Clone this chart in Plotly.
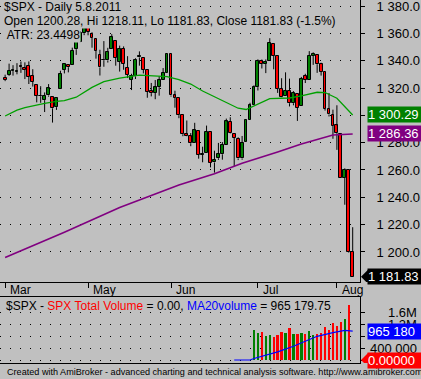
import plotly.graph_objects as go

# ---------------- data ----------------
dates = [
    "2011-03-31",
    "2011-04-01", "2011-04-04", "2011-04-05", "2011-04-06", "2011-04-07", "2011-04-08",
    "2011-04-11", "2011-04-12", "2011-04-13", "2011-04-14", "2011-04-15",
    "2011-04-18", "2011-04-19", "2011-04-20", "2011-04-21",
    "2011-04-25", "2011-04-26", "2011-04-27", "2011-04-28", "2011-04-29",
    "2011-05-02", "2011-05-03", "2011-05-04", "2011-05-05", "2011-05-06",
    "2011-05-09", "2011-05-10", "2011-05-11", "2011-05-12", "2011-05-13",
    "2011-05-16", "2011-05-17", "2011-05-18", "2011-05-19", "2011-05-20",
    "2011-05-23", "2011-05-24", "2011-05-25", "2011-05-26", "2011-05-27",
    "2011-05-31",
    "2011-06-01", "2011-06-02", "2011-06-03",
    "2011-06-06", "2011-06-07", "2011-06-08", "2011-06-09", "2011-06-10",
    "2011-06-13", "2011-06-14", "2011-06-15", "2011-06-16", "2011-06-17",
    "2011-06-20", "2011-06-21", "2011-06-22", "2011-06-23", "2011-06-24",
    "2011-06-27", "2011-06-28", "2011-06-29", "2011-06-30",
    "2011-07-01",
    "2011-07-05", "2011-07-06", "2011-07-07", "2011-07-08",
    "2011-07-11", "2011-07-12", "2011-07-13", "2011-07-14", "2011-07-15",
    "2011-07-18", "2011-07-19", "2011-07-20", "2011-07-21", "2011-07-22",
    "2011-07-25", "2011-07-26", "2011-07-27", "2011-07-28", "2011-07-29",
    "2011-08-01", "2011-08-02", "2011-08-03", "2011-08-04", "2011-08-05",
]

opens = [
    1327.44,
    1329.48, 1332.41, 1332.03, 1335.94, 1334.82, 1336.16,
    1329.01, 1321.96, 1314.03, 1311.13, 1314.54,
    1313.35, 1305.99, 1319.12, 1333.23,
    1337.14, 1336.75, 1348.43, 1353.86, 1360.14,
    1365.21, 1359.76, 1355.90, 1344.16, 1340.24,
    1340.20, 1348.34, 1354.51, 1339.39, 1348.69,
    1334.77, 1326.10, 1328.54, 1342.40, 1342.00,
    1333.07, 1317.70, 1316.36, 1320.64, 1325.69,
    1331.10,
    1345.20, 1314.55, 1312.94,
    1300.26, 1286.31, 1284.63, 1279.63, 1288.26,
    1271.31, 1272.22, 1287.87, 1265.53, 1268.58,
    1271.50, 1278.40, 1295.48, 1286.60, 1283.04,
    1268.44, 1280.21, 1296.85, 1307.64,
    1320.64,
    1339.59, 1337.56, 1339.62, 1352.39,
    1343.31, 1319.61, 1314.45, 1317.74, 1308.87,
    1315.94, 1307.07, 1328.66, 1325.65, 1343.80,
    1344.32, 1337.39, 1331.91, 1304.84, 1300.12,
    1292.59, 1286.56, 1254.25, 1260.23, 1200.28,
]
highs = [
    1329.77,
    1337.85, 1336.74, 1338.21, 1339.38, 1338.80, 1339.46,
    1333.77, 1321.96, 1321.35, 1316.79, 1322.88,
    1313.35, 1312.70, 1332.66, 1337.49,
    1337.55, 1349.55, 1357.49, 1361.71, 1364.56,
    1370.58, 1360.84, 1355.90, 1348.00, 1354.36,
    1349.44, 1359.44, 1354.51, 1351.05, 1350.47,
    1343.33, 1330.42, 1341.82, 1346.82, 1342.00,
    1333.07, 1323.72, 1325.86, 1328.51, 1334.62,
    1345.20,
    1345.20, 1318.03, 1312.94,
    1300.26, 1296.22, 1287.04, 1294.54, 1288.26,
    1277.04, 1292.50, 1287.87, 1274.11, 1279.82,
    1280.42, 1297.62, 1298.61, 1286.60, 1283.93,
    1284.91, 1296.80, 1309.21, 1321.97,
    1341.01,
    1340.89, 1340.94, 1356.48, 1352.39,
    1343.31, 1327.17, 1331.48, 1326.88, 1317.70,
    1315.94, 1328.14, 1330.43, 1347.00, 1346.10,
    1344.32, 1338.51, 1331.91, 1316.32, 1304.16,
    1307.38, 1286.56, 1261.20, 1260.23, 1218.11,
]
lows = [
    1325.03,
    1328.89, 1329.10, 1330.03, 1331.09, 1326.56, 1322.94,
    1321.06, 1309.51, 1309.19, 1302.42, 1313.68,
    1294.70, 1303.97, 1319.12, 1330.70,
    1331.47, 1336.75, 1344.25, 1353.60, 1358.69,
    1358.59, 1349.52, 1341.50, 1329.17, 1335.58,
    1338.64, 1348.34, 1336.36, 1332.03, 1333.36,
    1327.32, 1318.51, 1326.59, 1336.36, 1330.67,
    1312.88, 1313.87, 1311.80, 1314.41, 1325.69,
    1331.10,
    1313.71, 1305.61, 1297.90,
    1284.72, 1284.74, 1277.42, 1279.63, 1268.28,
    1265.64, 1272.22, 1261.90, 1258.07, 1267.40,
    1267.56, 1278.40, 1286.79, 1262.87, 1267.24,
    1267.53, 1280.21, 1296.85, 1307.64,
    1318.18,
    1334.30, 1330.92, 1339.62, 1333.71,
    1316.42, 1313.33, 1314.45, 1306.51, 1307.35,
    1295.92, 1307.07, 1323.65, 1325.65, 1336.95,
    1331.09, 1329.10, 1303.49, 1299.16, 1282.86,
    1274.73, 1254.03, 1234.56, 1199.54, 1181.83,
]
closes = [
    1325.83,
    1332.41, 1332.87, 1332.63, 1335.54, 1333.51, 1328.17,
    1324.46, 1314.16, 1314.41, 1314.52, 1319.68,
    1305.14, 1312.62, 1330.36, 1337.38,
    1335.25, 1347.24, 1355.66, 1360.48, 1363.61,
    1361.22, 1356.62, 1347.32, 1335.10, 1340.20,
    1346.29, 1357.16, 1342.08, 1348.65, 1337.77,
    1329.47, 1328.98, 1340.68, 1343.60, 1333.27,
    1317.37, 1316.28, 1320.47, 1325.69, 1331.10,
    1345.20,
    1314.55, 1312.94, 1300.16,
    1286.17, 1284.94, 1279.56, 1289.00, 1270.98,
    1271.83, 1287.87, 1265.42, 1267.64, 1271.50,
    1278.36, 1295.52, 1287.14, 1283.50, 1268.45,
    1280.10, 1296.67, 1307.41, 1320.64,
    1339.67,
    1337.88, 1339.22, 1353.22, 1343.80,
    1319.49, 1313.64, 1317.72, 1308.87, 1316.14,
    1305.44, 1326.73, 1325.84, 1343.80, 1345.02,
    1337.43, 1331.94, 1304.89, 1300.67, 1292.28,
    1286.94, 1254.05, 1260.34, 1200.07, 1181.83,
]

# green moving average (read at sample dates)
ma_fast_dates = ["2011-03-31", "2011-04-05", "2011-04-07", "2011-04-12", "2011-04-14",
                 "2011-04-19", "2011-04-21", "2011-04-27", "2011-05-03", "2011-05-06",
                 "2011-05-12", "2011-05-19", "2011-05-24", "2011-05-31", "2011-06-03",
                 "2011-06-08", "2011-06-13", "2011-06-17", "2011-06-22", "2011-06-24",
                 "2011-06-28", "2011-07-01", "2011-07-07", "2011-07-14", "2011-07-19",
                 "2011-07-25", "2011-07-27", "2011-08-01", "2011-08-03", "2011-08-05"]
ma_fast_vals = [1299.5, 1303.8, 1305.6, 1307.8, 1308.8,
                1310.2, 1310.7, 1313.3, 1320.5, 1324.6,
                1327.3, 1329.5, 1329.2, 1328.3, 1326.2,
                1322.9, 1317.8, 1312.0, 1308.0, 1305.2,
                1304.3, 1308.3, 1312.3, 1312.7, 1314.2,
                1316.9, 1316.7, 1312.5, 1306.3, 1300.29]

# purple moving average (read at sample dates)
ma_slow_dates = ["2011-03-31", "2011-04-21", "2011-05-12", "2011-06-03", "2011-06-16",
                 "2011-06-27", "2011-07-11", "2011-07-19", "2011-07-29", "2011-08-05"]
ma_slow_vals = [1196.0, 1214.5, 1232.5, 1249.0, 1257.2,
                1265.0, 1273.2, 1279.0, 1285.6, 1286.36]

# volume pane
vol_dates = ["2011-06-30", "2011-07-01", "2011-07-05", "2011-07-06", "2011-07-07",
             "2011-07-08", "2011-07-11", "2011-07-12", "2011-07-13", "2011-07-14",
             "2011-07-15", "2011-07-18", "2011-07-19", "2011-07-20", "2011-07-21",
             "2011-07-22", "2011-07-25", "2011-07-26", "2011-07-27", "2011-07-28",
             "2011-07-29", "2011-08-01", "2011-08-02", "2011-08-03", "2011-08-04",
             "2011-08-05"]
vol_vals = [990000, 900000, 920000, 790000, 840000,
            760000, 830000, 920000, 900000, 1080000,
            880000, 880000, 900000, 880000, 960000,
            830000, 860000, 900000, 1100000, 990000,
            1230000, 1120000, 1270000, 1360000, 1820000,
            0]

ma_vol_dates = ["2011-06-23", "2011-06-29", "2011-06-30", "2011-07-06", "2011-07-11",
                "2011-07-15", "2011-07-20", "2011-07-25", "2011-07-29", "2011-08-03",
                "2011-08-05"]
ma_vol_vals = [0, 0, 50000, 160000, 270000,
               460000, 630000, 790000, 910000, 990000,
               965179.75]

price_ticks = [1200, 1220, 1240, 1260, 1280, 1300, 1320, 1340, 1360, 1380]
price_tick_text = ["1 200.0", "1 220.0", "1 240.0", "1 260.0", "1 280.0",
                   "1 300.0", "1 320.0", "1 340.0", "1 360.0", "1 380.0"]
vol_grid = [0, 400000, 800000, 1200000, 1600000]
vol_label_vals = [400000, 1200000, 1600000]
vol_label_text = ["400 000", "1.2M", "1.6M"]

month_starts = ["2011-03-31", "2011-05-02", "2011-06-01", "2011-07-01", "2011-08-01"]
month_labels = ["Mar", "May", "Jun", "Jul", "Aug"]

title_line1 = "$SPX - Daily 5.8.2011"
title_line2 = "Open 1200.28, Hi 1218.11, Lo 1181.83, Close 1181.83 (-1.5%)"
title_line3 = " ATR: 23.4498"
footer = ("Created with AmiBroker - advanced charting and technical analysis "
          "software. http://www.amibroker.com/")

# ---------------- styling ----------------
W, H = 421, 379
BG = "#c0c0c0"
GREEN = "#008000"
RED = "#ff0000"
MAGREEN = "#00a000"
PURPLE = "#800080"
BLUE = "#0000ff"
FONT = "Liberation Sans, Arial, sans-serif"

plot_right = 360 / W
price_dom = [(H - 282) / H, 1.0]
vol_dom = [(H - 363) / H, (H - 297) / H]

pos = {d: i for i, d in enumerate(dates)}
idx = list(range(len(dates)))

fig = go.Figure()

# wicks (upper and lower segments)
wx, wy = [], []
for i, o, h, l, c in zip(idx, opens, highs, lows, closes):
    top, bot = max(o, c), min(o, c)
    wx += [i, i, None, i, i, None]
    wy += [h, top, None, bot, l, None]
fig.add_trace(go.Scatter(x=wx, y=wy, mode="lines",
                         line=dict(color="black", width=1),
                         hoverinfo="skip", xaxis="x", yaxis="y"))

# bodies
bases = [min(o, c) for o, c in zip(opens, closes)]
heights = [max(abs(c - o), 0.25) for o, c in zip(opens, closes)]
colors = [GREEN if c >= o else RED for o, c in zip(opens, closes)]
fig.add_trace(go.Bar(x=idx, y=heights, base=bases, width=0.72,
                     marker=dict(color=colors, line=dict(color="black", width=1)),
                     xaxis="x", yaxis="y", hoverinfo="skip"))

# moving averages
fig.add_trace(go.Scatter(x=[pos[d] for d in ma_fast_dates], y=ma_fast_vals,
                         mode="lines", line=dict(color=MAGREEN, width=1.3),
                         xaxis="x", yaxis="y"))
fig.add_trace(go.Scatter(x=[pos[d] for d in ma_slow_dates], y=ma_slow_vals,
                         mode="lines", line=dict(color=PURPLE, width=1.6),
                         xaxis="x", yaxis="y"))

# volume
vcol = []
for d in vol_dates:
    i = pos[d]
    vcol.append(GREEN if closes[i] >= opens[i] else RED)
fig.add_trace(go.Bar(x=[pos[d] for d in vol_dates], y=vol_vals, width=0.6,
                     marker=dict(color=vcol, line=dict(width=0)),
                     xaxis="x2", yaxis="y2"))
fig.add_trace(go.Scatter(x=[pos[d] for d in ma_vol_dates], y=ma_vol_vals,
                         mode="lines", line=dict(color=BLUE, width=1.2),
                         xaxis="x2", yaxis="y2"))

xrange = [-1.3, 89.85]
month_idx = [pos[d] for d in month_starts]

axis_common = dict(showline=True, mirror=True, linecolor="black", linewidth=1,
                   zeroline=False)
fig.update_layout(
    width=W, height=H, margin=dict(l=0, r=0, t=0, b=0),
    paper_bgcolor=BG, plot_bgcolor=BG, showlegend=False,
    font=dict(family=FONT, size=12, color="black"),
    bargap=0,
    xaxis=dict(domain=[0, plot_right], range=xrange, anchor="y",
               showgrid=False, tickvals=month_idx, ticks="outside", ticklen=5,
               tickcolor="black", showticklabels=False, **axis_common),
    yaxis=dict(domain=price_dom, range=[1178.0, 1384.44], side="right",
               anchor="x", tickvals=price_ticks, ticktext=price_tick_text,
               ticks="outside", ticklen=4, tickcolor="black",
               ticklabelstandoff=9, ticklabeloverflow="allow",
               showgrid=True, gridcolor="black", griddash="1px,9px", gridwidth=1,
               tickfont=dict(size=13), **axis_common),
    xaxis2=dict(domain=[0, plot_right], range=xrange, anchor="y2",
                showgrid=False, showticklabels=False, ticks="", **axis_common),
    yaxis2=dict(domain=vol_dom, range=[-100000, 2100000], side="right",
                anchor="x2", tickvals=vol_grid, showticklabels=False,
                ticks="outside", ticklen=4, tickcolor="black",
                showgrid=True, gridcolor="black", griddash="1px,9px", gridwidth=1,
                **axis_common),
)

ann = []
def header(text, ypx, x=3):
    ann.append(dict(text=text, xref="paper", yref="paper", x=x / W, y=1 - ypx / H,
                    xanchor="left", yanchor="middle", showarrow=False,
                    bgcolor=BG, borderpad=0, font=dict(size=12, color="black")))

header(title_line1, 7)
header(title_line2, 21)
header(title_line3, 35)

# volume pane title
ann.append(dict(
    text=("$SPX - <span style='color:#ff0000'>SPX Total Volume</span> = 0.00, "
          "<span style='color:#0000ff'>MA20volume</span> = 965 179.75"),
    xref="paper", yref="paper", x=4 / W, y=1 - 305.5 / H, xanchor="left",
    yanchor="middle", showarrow=False, font=dict(size=12, color="black")))

# footer
ann.append(dict(text=footer, xref="paper", yref="paper", x=5 / W, y=1 - 371.5 / H,
                xanchor="left", yanchor="middle", showarrow=False,
                font=dict(size=9.1, color="black")))

# month labels
for d, lab in zip(month_starts, month_labels):
    ann.append(dict(text=lab, xref="x", yref="paper", x=pos[d], xshift=3,
                    y=1 - 289.5 / H, xanchor="left", yanchor="middle",
                    showarrow=False, font=dict(size=12, color="black")))

# volume axis labels (right aligned)
for v, t in zip(vol_label_vals, vol_label_text):
    ann.append(dict(text=t, xref="paper", yref="y2", x=419 / W, y=v,
                    xanchor="right", yanchor="middle", showarrow=False,
                    font=dict(size=13, color="black")))

# value labels on right axis
def value_label(val, yref, bg, text):
    ann.append(dict(text=text, xref="paper", yref=yref, x=367 / W, y=val,
                    xanchor="left", yanchor="middle", showarrow=False,
                    bgcolor=bg, borderpad=0, width=55, align="left",
                    font=dict(size=13, color="white")))

value_label(ma_fast_vals[-1], "y", GREEN, "1 300.29")
value_label(ma_slow_vals[-1], "y", PURPLE, "1 286.36")
value_label(closes[-1], "y", "black", "1 181.83")
value_label(ma_vol_vals[-1], "y2", BLUE, "965 180")
value_label(vol_vals[-1], "y2", RED, "0.00000")
fig.update_layout(annotations=ann)

# arrow tabs for last close and last volume labels
for val, yref, col in [(closes[-1], "y", "black"), (vol_vals[-1], "y2", RED)]:
    fig.add_shape(type="path", xref="paper", yref=yref,
                  xsizemode="pixel", ysizemode="pixel",
                  xanchor=361 / W, yanchor=val,
                  path="M 0,0 L 7,7 L 7,-7 Z",
                  fillcolor=col, line=dict(width=0))

fig.write_html("out.html", config={"displayModeBar": False},
               post_script="document.body.style.margin='0';"
                           "document.body.style.overflow='hidden';")
